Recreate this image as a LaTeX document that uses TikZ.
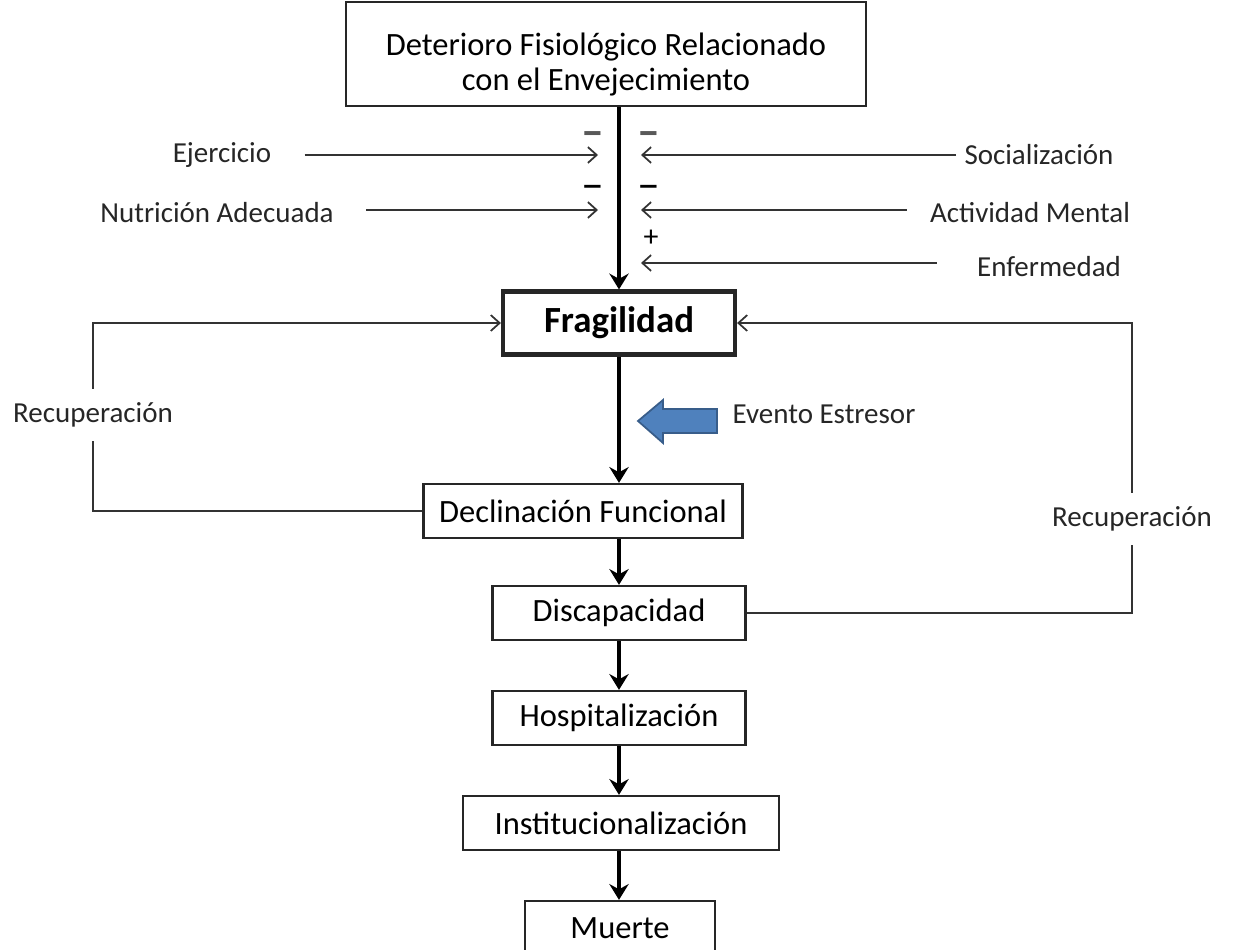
\documentclass[tikz,border=0pt]{standalone}
\usepackage{fontspec}
\setmainfont{Carlito}
\usetikzlibrary{arrows.meta}
\definecolor{evfill}{RGB}{79,129,189}
\definecolor{evline}{RGB}{56,93,138}

\begin{document}
\begin{tikzpicture}[x=0.02cm,y=-0.02cm,
 box/.style={draw=black!85,line width=1.3pt,inner sep=0pt,minimum height=1.08cm,font=\fontsize{18.5}{20}\selectfont},
 lbl/.style={inner sep=0pt,text=black!85,font=\fontsize{16.5}{18}\selectfont},
 sgn/.style={inner sep=0pt,font=\fontsize{26}{26}\selectfont},
 main/.style={line width=2.4pt,-{Stealth[length=9pt,width=11pt,inset=3pt]}},
 inp/.style={draw=black!80,line width=1pt,-{Straight Barb[length=5pt,width=9pt]}},
 fb/.style={draw=black!80,line width=1pt}]
\useasboundingbox (0,0) rectangle (1258,950);
\clip (0,0) rectangle (1258,950);
% column of boxes
\node[box,minimum width=10.4cm,minimum height=2.08cm,align=center] (det) at (606,54)
 {\rule{0pt}{25pt}Deterioro Fisiológico Relacionado\\con el Envejecimiento};
\node[box,line width=2.4pt,minimum width=4.64cm,minimum height=1.26cm,font=\fontsize{21}{22}\selectfont\bfseries] (frag) at (619,323) {Fragilidad};
\node[box,minimum width=6.38cm] (decl) at (583,511) {Declinación Funcional};
\node[box,minimum width=5.06cm] (disc) at (619,613) {Discapacidad};
\node[box,minimum width=5.06cm] (hosp) at (619,718) {Hospitalización};
\node[box,minimum width=6.32cm] (inst) at (621,823) {Institucionalización};
\node[box,minimum width=3.8cm] (muer) at (620,928) {Muerte};
\draw[main] (frag.north |- det.south) -- (frag.north);
\draw[main] (frag.south) -- (frag.south |- decl.north);
\draw[main] (disc.north |- decl.south) -- (disc.north);
\foreach \a/\b in {disc/hosp,hosp/inst,inst/muer} \draw[main] (\a.south -| disc) -- (\b.north -| disc);
% influences on the main line
\node[lbl] (ej) at (222,155) {Ejercicio};
\node[lbl] (nut) at (217,213) {Nutrición Adecuada};
\node[lbl] (soc) at (1039,155) {Socialización};
\node[lbl] (act) at (1030,213) {Actividad Mental};
\node[lbl] (enf) at (1049,267) {Enfermedad};
\coordinate (ej1) at (598,155);
\coordinate (nut1) at (598,210);
\coordinate (soc1) at (641,155);
\coordinate (act1) at (641,210);
\coordinate (enf1) at (641,263);
\draw[inp,shorten <=0.66cm] (ej) -- (ej1);
\draw[inp,shorten <=0.64cm] (nut.east |- nut1) -- (nut1);
\draw[inp,shorten <=0.16cm] (soc) -- (soc1);
\draw[inp,shorten <=0.46cm] (act.west |- act1) -- (act1);
\draw[inp,shorten <=0.8cm] (enf.west |- enf1) -- (enf1);
\node[sgn,text=black!65] (m1) at (593,139) {\textbf{--}};
\node[sgn,text=black!65] (m2) at (649,139) {\textbf{--}};
\node[sgn] (m3) at (593,192) {--};
\node[sgn] (m4) at (649,192) {--};
\node[sgn,font=\fontsize{17}{18}\selectfont] (p1) at (651,238) {+};
% stress event
\draw[draw=evline,fill=evfill,line width=1pt] (638,421) -- (663,400) -- (663,409) -- (717,409)
 -- (717,433) -- (663,433) -- (663,443) -- cycle;
\node[lbl] (ev) at (824,414) {Evento Estresor};
% recovery loops
\node[lbl,minimum height=1.04cm] (recl) at (93,415) {Recuperación};
\node[lbl,minimum height=1.04cm] (recr) at (1132,519) {Recuperación};
\draw[fb] (decl.west) -| (recl.south);
\draw[inp] (recl.north) |- (frag.west);
\draw[fb] (disc.east) -| (recr.south);
\draw[inp] (recr.north) |- (frag.east);
\end{tikzpicture}
\end{document}
